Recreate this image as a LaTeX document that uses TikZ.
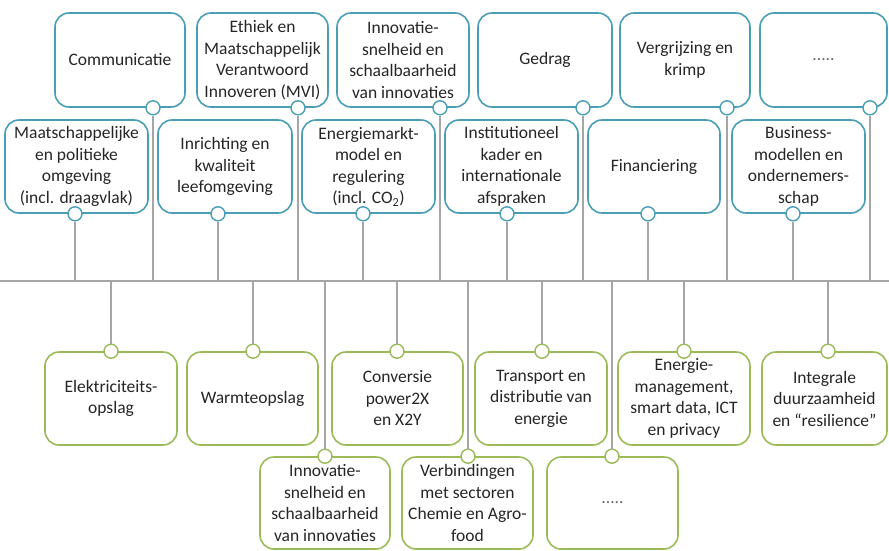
\documentclass[tikz,border=0pt]{standalone}
\usepackage{fontspec}
\setmainfont{Carlito}
\begin{document}
\begin{tikzpicture}[x=1pt,y=-1pt,
  box/.style={draw, line width=1.6pt, rounded corners=14pt, fill=white, align=center,
    text=txt, font=\fontsize{17.5}{21.5}\selectfont, inner sep=1pt},
  bluebox/.style={box, draw=blueb},
  greenbox/.style={box, draw=greenb},
  dotb/.style={circle, draw=blueb, line width=1.4pt, fill=white, minimum size=14pt, inner sep=0pt},
  dotg/.style={circle, draw=greenb, line width=1.4pt, fill=white, minimum size=14pt, inner sep=0pt},
  conn/.style={draw=linegray, line width=1.2pt}
]
\definecolor{blueb}{HTML}{4A9EB5}
\definecolor{greenb}{HTML}{9BBB59}
\definecolor{linegray}{HTML}{A6A6A6}
\definecolor{txt}{HTML}{262626}
\useasboundingbox (0,0) rectangle (889,550);

% main line
\coordinate (mL) at (0,281);
\coordinate (mR) at (889,281);
\draw[conn] (mL) -- (mR);

% helper macro for a box: style, name, left, right, top, bottom, text
\newcommand{\mybox}[7]{%
  \node[#1, minimum width=#4-#3, minimum height=#6-#5] (#2) at ({(#3+#4)/2},{(#5+#6)/2}) {#7};}
\newcommand{\mydots}{\textcolor{txt!70}{.....}}

% top row
\mybox{bluebox}{t1}{55}{185}{13}{107}{Communicatie}
\mybox{bluebox}{t2}{197}{328}{13}{107}{Ethiek en\\Maatschappelijk\\Verantwoord\\Innoveren (MVI)}
\mybox{bluebox}{t3}{337}{469}{13}{107}{Innovatie-\\snelheid en\\schaalbaarheid\\van innovaties}
\mybox{bluebox}{t4}{478}{612}{13}{107}{Gedrag}
\mybox{bluebox}{t5}{620}{750}{13}{107}{Vergrijzing en\\krimp}
\mybox{bluebox}{t6}{760}{887}{13}{107}{\mydots}

% middle row
\mybox{bluebox}{m1}{5}{148}{120}{213}{Maatschappelijke\\en politieke\\omgeving\\(incl. draagvlak)}
\mybox{bluebox}{m2}{158}{292}{120}{213}{Inrichting en\\kwaliteit\\leefomgeving}
\mybox{bluebox}{m3}{302}{435}{120}{213}{Energiemarkt-\\model en\\regulering\\(incl. CO\textsubscript{2})}
\mybox{bluebox}{m4}{445}{578}{120}{213}{Institutioneel\\kader en\\internationale\\afspraken}
\mybox{bluebox}{m5}{588}{720}{120}{213}{Financiering}
\mybox{bluebox}{m6}{732}{865}{120}{213}{Business-\\modellen en\\ondernemers-\\schap}

% bottom row 1
\mybox{greenbox}{b1}{45}{177}{352}{445}{Elektriciteits-\\opslag}
\mybox{greenbox}{b2}{187}{318}{352}{445}{Warmteopslag}
\mybox{greenbox}{b3}{332}{463}{352}{445}{Conversie\\power2X\\en X2Y}
\mybox{greenbox}{b4}{475}{607}{352}{445}{Transport en\\distributie van\\energie}
\mybox{greenbox}{b5}{618}{750}{352}{445}{Energie-\\management,\\smart data, ICT\\en privacy}
\mybox{greenbox}{b6}{762}{887}{352}{445}{Integrale\\duurzaamheid\\en “resilience”}

% bottom row 2
\mybox{greenbox}{c1}{260}{390}{457}{549}{Innovatie-\\snelheid en\\schaalbaarheid\\van innovaties}
\mybox{greenbox}{c2}{402}{533}{457}{549}{Verbindingen\\met sectoren\\Chemie en Agro-\\food}
\mybox{greenbox}{c3}{547}{678}{457}{549}{\mydots}

% connector dots
\foreach \n/\x in {t1/153,t2/298,t3/440,t4/583,t5/727,t6/870,m1/75,m2/218,m3/363,m4/507,m5/648,m6/793}{
  \node[dotb] (d\n) at (\x,0 |- \n.south) {};
}
\foreach \n/\x in {b1/111,b2/253,b3/397,b4/542,b5/684,b6/828,c1/325,c2/468,c3/612}{
  \node[dotg] (d\n) at (\x,0 |- \n.north) {};
}

% connectors
\foreach \n in {t1,t2,t3,t4,t5,t6,m1,m2,m3,m4,m5,m6}{
  \draw[conn] (d\n) -- (d\n |- mL);
}
\foreach \n in {b1,b2,b3,b4,b5,b6,c1,c2,c3}{
  \draw[conn] (d\n |- mL) -- (d\n);
}
\end{tikzpicture}
\end{document}
